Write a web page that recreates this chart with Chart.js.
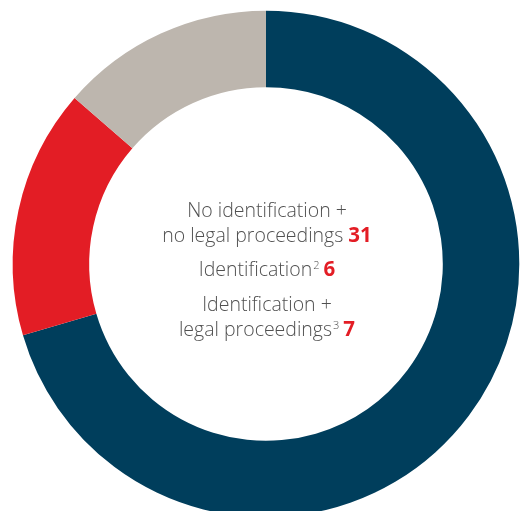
<!DOCTYPE html>
<html>
<head>
<meta charset="utf-8">
<script src="https://cdn.jsdelivr.net/npm/chart.js@4.4.1/dist/chart.umd.min.js"></script>
<style>
  html, body { margin: 0; padding: 0; background: #fff; overflow: hidden; }
  #wrap { position: relative; width: 530px; height: 530px; }
</style>
</head>
<body>
<div id="wrap"><canvas id="c" width="530" height="530"></canvas></div>
<script>
const categories = ["No identification + no legal proceedings", "Identification + legal proceedings", "Identification"];
const values = [31, 7, 6];
const colors = ["#003E5C", "#E31D25", "#BDB6AE"];

// Centre legend text lines: each line is a list of runs [text, kind]
const centerLines = [
  [["No identification +", "t"]],
  [["no legal proceedings ", "t"], ["31", "n"]],
  [["Identification", "t"], ["2", "s"], ["6", "n"]],
  [["Identification +", "t"]],
  [["legal proceedings", "t"], ["3", "s"], ["7", "n"]]
];
const lineOffsets = [-47, -22, 12, 46.7, 71.7];

const FONT = "'Open Sans', 'Noto Sans', sans-serif";
const fonts = {
  t: "300 19.5px " + FONT,
  n: "700 20.5px " + FONT,
  s: "300 11px " + FONT
};
const fills = { t: "#505050", n: "#E31D25", s: "#505050" };

const centerText = {
  id: "centerText",
  afterDraw(chart) {
    const ctx = chart.ctx;
    const meta = chart.getDatasetMeta(0);
    const arc = meta.data[0];
    const cx = arc.x + 1, cy = arc.y;
    ctx.save();
    ctx.textBaseline = "alphabetic";
    ctx.textAlign = "left";
    centerLines.forEach((runs, i) => {
      let w = 0;
      runs.forEach(([txt, k]) => { ctx.font = fonts[k]; w += ctx.measureText(txt).width + (k === "s" ? 5 : 0); });
      let x = cx - w / 2;
      const y = cy + lineOffsets[i];
      runs.forEach(([txt, k]) => {
        ctx.font = fonts[k];
        ctx.fillStyle = fills[k];
        if (k === "s") {
          x += 1;
          ctx.fillText(txt, x, y - 7);
          x += ctx.measureText(txt).width + 4;
        } else {
          ctx.fillText(txt, x, y);
          x += ctx.measureText(txt).width;
        }
      });
    });
    ctx.restore();
  }
};

new Chart(document.getElementById("c"), {
  type: "doughnut",
  data: {
    labels: categories,
    datasets: [{
      data: values,
      backgroundColor: colors,
      borderWidth: 0,
      hoverOffset: 0
    }]
  },
  options: {
    responsive: false,
    animation: false,
    cutout: "69.8%",
    layout: { padding: { left: 12.7, right: 10.7, top: 10.7, bottom: 12.7 } },
    plugins: {
      legend: { display: false },
      tooltip: { enabled: false }
    },
    events: []
  },
  plugins: [centerText]
});
</script>
</body>
</html>
